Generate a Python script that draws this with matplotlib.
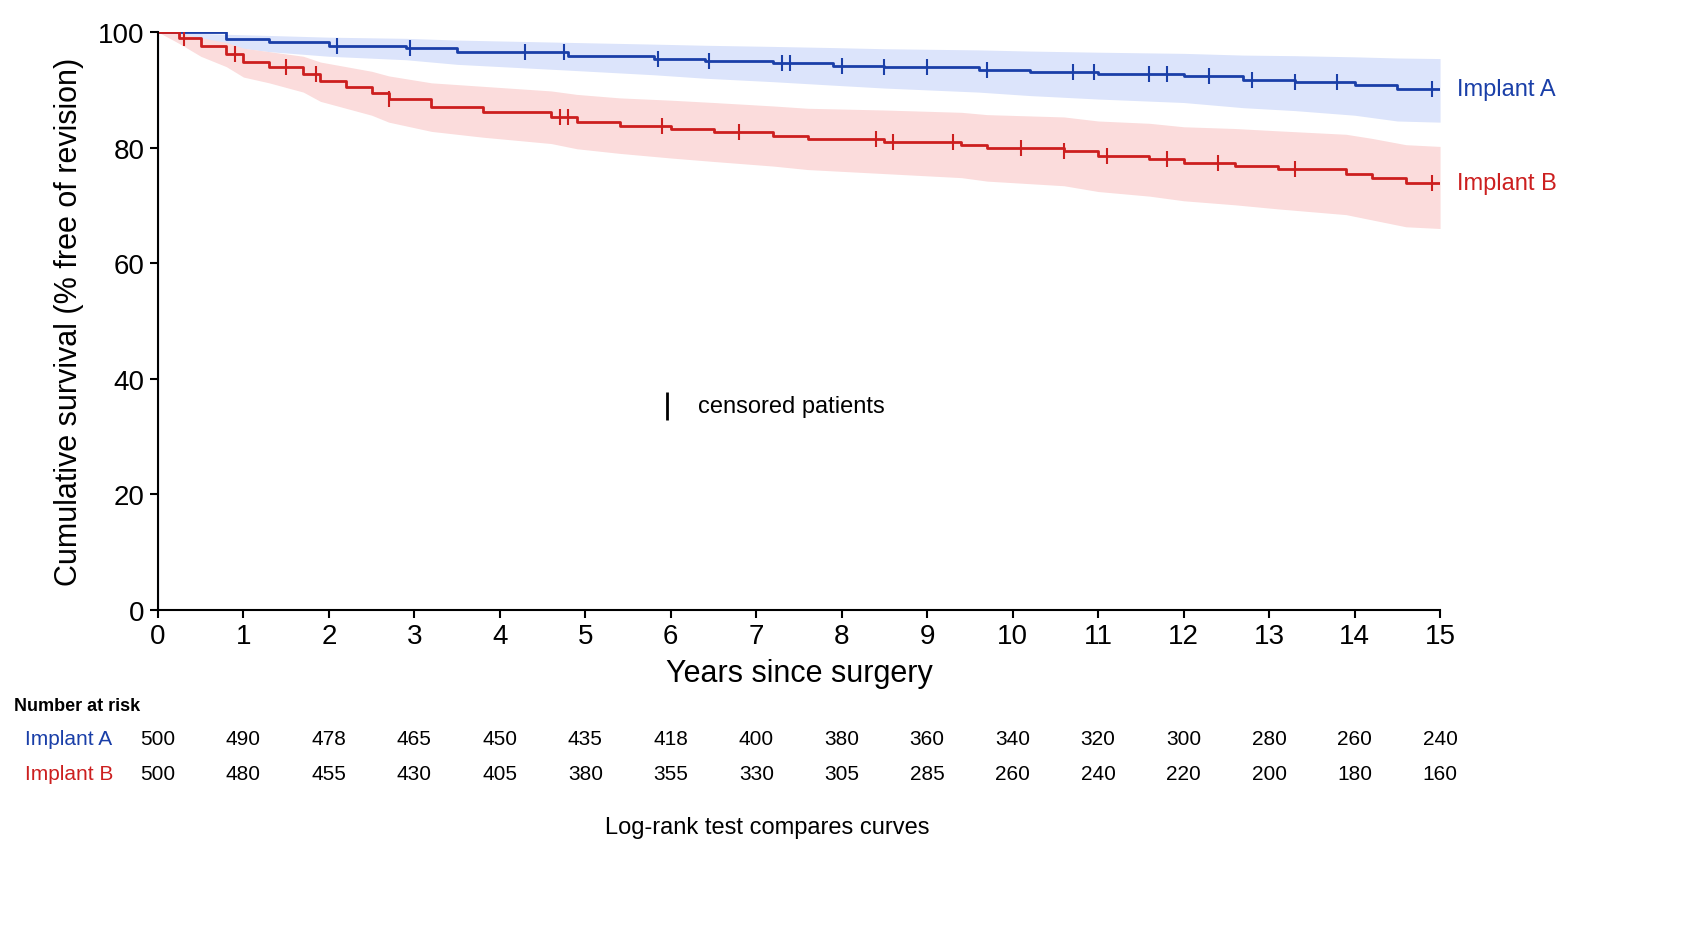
import matplotlib
matplotlib.use("Agg")
import matplotlib.pyplot as plt
import matplotlib.transforms as mtransforms
import numpy as np

plt.rcParams['font.family'] = ['Liberation Sans', 'DejaVu Sans']
blue = "#1a3fa8"; red = "#cc1f1f"
# step times and survival (after each step)
a_t = [0, 0.8, 1.3, 2.0, 2.9, 3.5, 4.8, 5.8, 6.4, 7.2, 7.9, 8.5, 9.6, 10.2, 11.0, 12.0, 12.7, 13.3, 14.0, 14.5, 15]
a_s = [100, 98.8, 98.2, 97.6, 97.2, 96.6, 95.9, 95.4, 95.0, 94.6, 94.2, 93.9, 93.5, 93.1, 92.7, 92.3, 91.7, 91.4, 90.8, 90.1, 90.1]
a_lo = [100, 97.5, 96.6, 95.8, 95.2, 94.4, 93.4, 92.6, 92.0, 91.4, 90.8, 90.3, 89.6, 89.0, 88.4, 87.8, 86.9, 86.4, 85.6, 84.6, 84.4]
a_hi = [100, 99.6, 99.4, 99.1, 98.9, 98.6, 98.2, 97.9, 97.7, 97.5, 97.3, 97.1, 96.9, 96.7, 96.5, 96.3, 96.0, 95.9, 95.7, 95.5, 95.4]
b_t = [0, 0.25, 0.5, 0.8, 1.0, 1.3, 1.7, 1.9, 2.2, 2.5, 2.7, 3.2, 3.8, 4.6, 4.9, 5.4, 6.0, 6.5, 7.2, 7.6, 8.5, 9.4, 9.7, 10.6, 11.0, 11.6, 12.0, 12.6, 13.1, 13.9, 14.2, 14.6, 15]
b_s = [100, 99.0, 97.5, 96.2, 94.8, 94.0, 92.8, 91.5, 90.5, 89.5, 88.4, 87.0, 86.2, 85.3, 84.5, 83.8, 83.2, 82.7, 82.0, 81.5, 81.0, 80.5, 80.0, 79.4, 78.6, 78.0, 77.3, 76.8, 76.3, 75.5, 74.7, 73.8, 73.8]
b_lo = [100, 98.0, 95.8, 94.0, 92.2, 91.2, 89.6, 88.0, 86.8, 85.6, 84.4, 82.8, 81.8, 80.7, 79.8, 79.0, 78.2, 77.6, 76.8, 76.2, 75.5, 74.8, 74.2, 73.4, 72.4, 71.6, 70.8, 70.1, 69.4, 68.4, 67.5, 66.3, 66.0]
b_hi = [100, 99.8, 99.0, 98.2, 97.2, 96.6, 95.8, 94.8, 94.0, 93.2, 92.4, 91.2, 90.6, 89.8, 89.2, 88.6, 88.2, 87.8, 87.2, 86.8, 86.5, 86.1, 85.7, 85.3, 84.6, 84.2, 83.6, 83.3, 82.9, 82.3, 81.6, 80.5, 80.2]
a_cens = [2.1, 2.95, 4.3, 4.75, 5.85, 6.45, 7.3, 7.4, 8.0, 8.5, 9.0, 9.7, 10.7, 10.95, 11.6, 11.8, 12.3, 12.8, 13.3, 13.8, 14.9]
b_cens = [0.3, 0.9, 1.5, 1.85, 2.7, 4.7, 4.8, 5.9, 6.8, 8.4, 8.6, 9.3, 10.1, 10.6, 11.1, 11.8, 12.4, 13.3, 14.9]
years = list(range(16))
risk_a = [500, 490, 478, 465, 450, 435, 418, 400, 380, 360, 340, 320, 300, 280, 260, 240]
risk_b = [500, 480, 455, 430, 405, 380, 355, 330, 305, 285, 260, 240, 220, 200, 180, 160]

fig = plt.figure(figsize=(16.93, 9.29), dpi=100)
ax = fig.add_axes([0.0933, 0.3423, 0.7573, 0.6222])
for t, s, lo, hi, c, band, cens in [(a_t, a_s, a_lo, a_hi, blue, "#dce4fb", a_cens), (b_t, b_s, b_lo, b_hi, red, "#fbdcdc", b_cens)]:
    ax.fill_between(t, lo, hi, color=band, lw=0)
    ax.step(t, s, where="post", color=c, lw=2)
    cs = [s[np.searchsorted(t, x, side="right") - 1] for x in cens]
    ax.plot(cens, cs, ls="none", marker="|", ms=12, mew=1.5, color=c)
ax.plot([0, 0], [0, 100], color=blue, lw=1.5)
ax.set_xlim(0, 15); ax.set_ylim(0, 100)
ax.set_xticks(years); ax.set_yticks([0, 20, 40, 60, 80, 100])
ax.tick_params(labelsize=20, length=6, width=1.5)
for sp in ["top", "right"]:
    ax.spines[sp].set_visible(False)
for sp in ["left", "bottom"]:
    ax.spines[sp].set_linewidth(1.5)
ax.set_xlabel("Years since surgery", fontsize=22, labelpad=6)
ax.set_ylabel("Cumulative survival (% free of revision)", fontsize=22, labelpad=10)
ax.text(15.2, 90.1, "Implant A", color=blue, fontsize=17, va="center", clip_on=False)
ax.text(15.2, 73.8, "Implant B", color=red, fontsize=17, va="center", clip_on=False)
ax.plot([5.96], [35.3], marker="|", ms=20, mew=2, color="black")
ax.text(6.32, 35.3, "censored patients", fontsize=17, va="center")

tr = mtransforms.blended_transform_factory(ax.transData, ax.transAxes)
ftr = mtransforms.blended_transform_factory(fig.transFigure, ax.transAxes)
ax.text(14/1693, -0.166, "Number at risk", transform=ftr, fontsize=13, fontweight="bold", va="center")
ax.text(25/1693, -0.223, "Implant A", transform=ftr, fontsize=15, color=blue, va="center")
ax.text(25/1693, -0.282, "Implant B", transform=ftr, fontsize=15, color=red, va="center")
for x, ra, rb in zip(years, risk_a, risk_b):
    ax.text(x, -0.223, str(ra), transform=tr, fontsize=15, ha="center", va="center")
    ax.text(x, -0.282, str(rb), transform=tr, fontsize=15, ha="center", va="center")
ax.text(767/1693, -0.375, "Log-rank test compares curves", transform=ftr, fontsize=17, ha="center", va="center")
fig.savefig("out.png", dpi=100)
